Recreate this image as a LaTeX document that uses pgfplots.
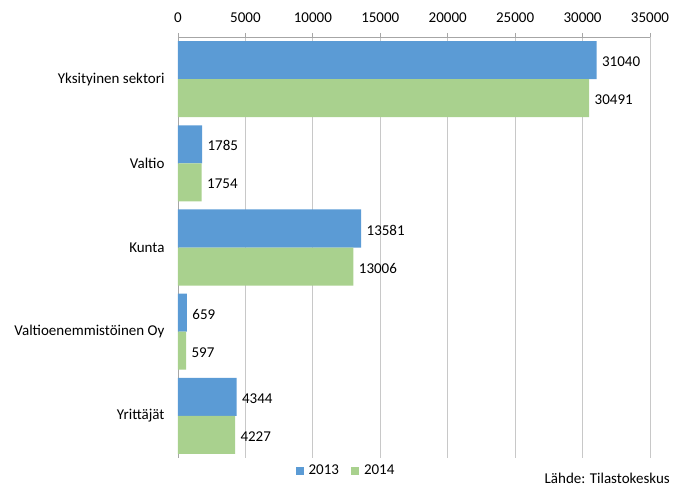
\documentclass[border=0pt]{standalone}
\usepackage{fontspec}
\setmainfont{Carlito}
\usepackage{pgfplots}
\pgfplotsset{compat=1.18}
\definecolor{c13}{HTML}{5B9BD5}
\definecolor{c14}{HTML}{A9D18E}
\definecolor{gridc}{HTML}{C8C8C8}
\definecolor{axc}{HTML}{A6A6A6}
\begin{document}
\begin{tikzpicture}[font=\fontsize{15}{18}\selectfont]
\begin{axis}[name=ax, scale only axis, width=472pt, height=421pt,
  xbar, bar width=38pt,
  xmin=0, xmax=35000, ymin=-0.5, ymax=4.5, y dir=reverse,
  axis x line*=top, axis y line*=left,
  axis line style={axc, line width=0.8pt},
  xtick={0,5000,...,35000}, ytick={0,1,2,3,4},
  yticklabels={Yksityinen sektori, Valtio, Kunta, Valtioenemmistöinen Oy, Yrittäjät},
  scaled x ticks=false,
  /pgf/number format/.cd, fixed, 1000 sep={}, assume math mode=true, /pgfplots/.cd,
  xmajorgrids, major grid style={gridc, line width=0.8pt},
  xtick align=outside, major tick length=4pt,
  x tick style={axc, line width=0.8pt},
  y tick style={draw=none},
  yticklabel style={xshift=-6pt},
  xticklabel style={yshift=7pt},
  point meta=x,
  nodes near coords, nodes near coords align={horizontal},
  every node near coord/.append style={black, font=\fontsize{15}{18}\selectfont, xshift=2pt, yshift=-1.5pt},
  legend columns=2,
  legend style={draw=none, fill=none, at={(0.356,-0.03)}, anchor=center,
    font=\fontsize{15}{18}\selectfont, inner sep=0pt,
    /tikz/every odd column/.append style={column sep=3pt},
    /tikz/every even column/.append style={column sep=10pt}},
  legend image code/.code={\fill[#1] (0pt,-4pt) rectangle (8pt,4pt);},
  clip=false,
]
\addplot[bar shift=19pt, fill=c13, draw=none] coordinates {(31040,0) (1785,1) (13581,2) (659,3) (4344,4)};
\addplot[bar shift=-19pt, fill=c14, draw=none] coordinates {(30491,0) (1754,1) (13006,2) (597,3) (4227,4)};
\legend{2013,2014}
\end{axis}
\node[anchor=east, inner sep=0pt] at ([shift={(20pt,-20pt)}]ax.south east) {Lähde: Tilastokeskus};
\path[use as bounding box] ([shift={(-178pt,-28pt)}]ax.south west) rectangle ([shift={(35pt,37pt)}]ax.north east);
\end{tikzpicture}
\end{document}
